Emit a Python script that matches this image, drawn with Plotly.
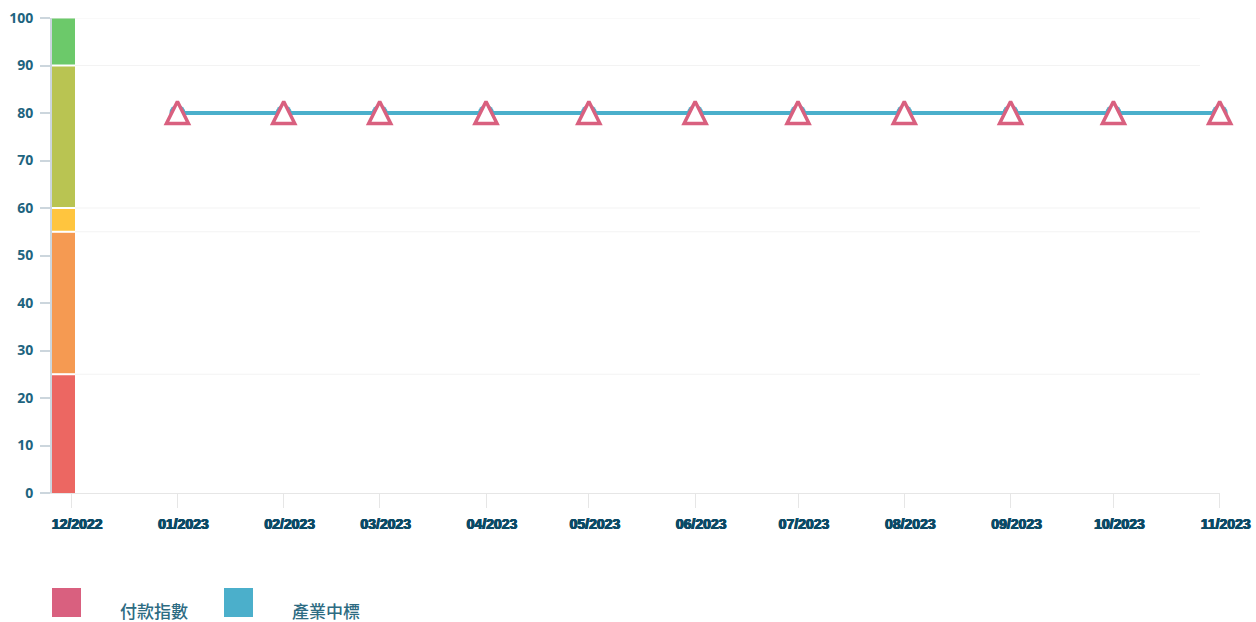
import plotly.graph_objects as go

# ---- data ----
months = ["2023-01-01", "2023-02-01", "2023-03-01", "2023-04-01", "2023-05-01", "2023-06-01",
          "2023-07-01", "2023-08-01", "2023-09-01", "2023-10-01", "2023-11-01"]
payment_index = [80, 80, 80, 80, 80, 80, 80, 80, 80, 80, 80]
industry_median = [80, 80, 80, 80, 80, 80, 80, 80, 80, 80, 80]
series_names = ["付款指數", "產業中標"]

band_lower = [0, 25, 55, 60, 90]
band_upper = [25, 55, 60, 90, 100]
band_colors = ["#EC6762", "#F59A52", "#FFC53E", "#B9C452", "#6CC96A"]

x_range = ["2022-11-25 10:00", "2023-11-01 02:00"]
y_ticks = [0, 10, 20, 30, 40, 50, 60, 70, 80, 90, 100]

PINK = "#D9607F"
BLUE = "#4BAFCB"
LABEL = "#1E6480"
LEGEND_TXT = "#2D6B82"
XLAB = "#0B4A66"

W, H = 1256, 622
ML, MR, MT, MB = 52, 36, 18, 129
PW, PH = W - ML - MR, H - MT - MB

fig = go.Figure()

fig.add_trace(go.Scatter(
    x=months, y=industry_median, name=series_names[1], mode="lines+markers",
    line=dict(color=BLUE, width=4),
    marker=dict(symbol="circle", size=16, color=BLUE),
    cliponaxis=False, showlegend=False))
fig.add_trace(go.Scatter(
    x=months, y=payment_index, name=series_names[0], mode="markers",
    marker=dict(symbol="arrow-down", angle=180, standoff=11.5, size=22, color="white",
                line=dict(color=PINK, width=3.5)),
    cliponaxis=False, showlegend=False))

band_w = 23 / PW
grid_end = (1200 - ML) / PW

shapes = []
# bands along the y axis
for lo, hi, c in zip(band_lower, band_upper, band_colors):
    shapes.append(dict(type="rect", xref="x domain", yref="y", x0=0, x1=band_w,
                       y0=lo, y1=hi, fillcolor=c, line=dict(width=0), layer="below"))
# faint grid lines at band edges
for v in band_upper:
    shapes.append(dict(type="line", xref="x domain", yref="y", x0=0, x1=grid_end,
                       y0=v, y1=v, line=dict(color="#F3F3F3", width=1), layer="below"))
    if v < 100:
        shapes.append(dict(type="line", xref="x domain", yref="y", x0=0, x1=band_w,
                           y0=v, y1=v, line=dict(color="white", width=2), layer="below"))

# custom legend
legend_colors = [PINK, BLUE]
legend_x = [52, 224]
annotations = []
for name, col, lx in zip(series_names, legend_colors, legend_x):
    shapes.append(dict(type="rect", xref="paper", yref="paper",
                       x0=(lx - ML) / PW, x1=(lx + 29 - ML) / PW,
                       y0=-(617 - (H - MB)) / PH, y1=-(588 - (H - MB)) / PH,
                       fillcolor=col, line=dict(width=0)))
    annotations.append(dict(text=name, xref="paper", yref="paper",
                            x=(lx + 66 - ML) / PW, y=-(610 - (H - MB)) / PH,
                            xanchor="left", yanchor="middle", showarrow=False,
                            font=dict(family="Noto Sans CJK TC", size=17, color=LEGEND_TXT,
                                      weight=500)))

fig.update_layout(
    width=W, height=H,
    margin=dict(l=ML, r=MR, t=MT, b=MB, autoexpand=False),
    plot_bgcolor="white", paper_bgcolor="white",
    shapes=shapes, annotations=annotations,
    showlegend=False,
    xaxis=dict(type="date", range=x_range, tickformat="%m/%Y", dtick="M1", tick0="2022-12-01",
               automargin=False,
               showgrid=False, zeroline=False, showline=True, linecolor="#E6E6E6", linewidth=1,
               ticks="outside", ticklen=14, tickcolor="#E6E6E6", tickwidth=1,
               ticklabelshift=6, ticklabelstandoff=4,
               tickfont=dict(family="Liberation Sans", size=14, color=XLAB, weight="bold",
                             shadow=f"0.6px 0 0 {XLAB}, -0.6px 0 0 {XLAB}, 0 0.5px 0 {XLAB}")),
    yaxis=dict(range=[0, 100], tickvals=y_ticks, showgrid=False, zeroline=False,
               automargin=False,
               showline=True, linecolor="#CCD6DD", linewidth=2,
               ticks="outside", ticklen=10, tickcolor="#CCD6DD", tickwidth=2,
               ticklabelstandoff=4,
               tickfont=dict(family="Open Sans", size=14, color=LABEL, weight="bold")),
)

fig.write_html(
    "out.html",
    config={"displayModeBar": False},
    post_script=(
        "document.documentElement.style.margin='0';"
        "document.documentElement.style.overflow='hidden';"
        "document.body.style.margin='0';"
        "document.body.style.overflow='hidden';"
        "document.body.style.height='622px';"
    ),
)
